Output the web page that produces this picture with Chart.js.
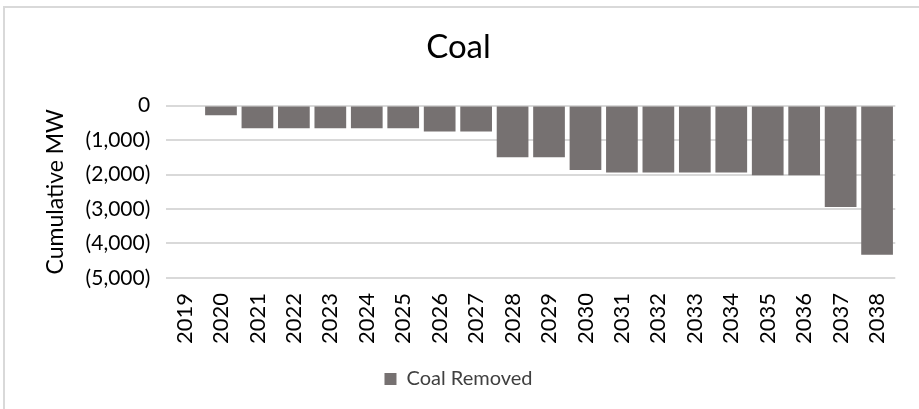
<!DOCTYPE html>
<html>
<head>
<meta charset="utf-8">
<script src="https://cdn.jsdelivr.net/npm/chart.js@4"></script>
<style>
  html, body { margin: 0; padding: 0; background: #fff; overflow: hidden; }
  #wrap { position: absolute; left: 0; top: 0; width: 919px; height: 409px; }
  #frame { position: absolute; left: 3px; top: 6px; width: 940px; height: 430px;
           border-left: 2px solid #d9d9d9; border-top: 2px solid #d9d9d9; }
</style>
</head>
<body>
<div id="wrap">
  <div id="frame"></div>
  <canvas id="coalChart" width="919" height="409"></canvas>
</div>
<script>
// categories and values (cumulative MW removed)
const years = ['2019', '2020', '2021', '2022', '2023', '2024', '2025', '2026', '2027', '2028',
               '2029', '2030', '2031', '2032', '2033', '2034', '2035', '2036', '2037', '2038'];
const coalRemoved = [0, -280, -660, -660, -660, -660, -660, -750, -750, -1500,
                     -1500, -1870, -1940, -1940, -1940, -1940, -2020, -2020, -2940, -4330];
const yTicks = [0, -1000, -2000, -3000, -4000, -5000];

const fmt = v => {
  if (v === 0) return '0';
  const s = Math.abs(v).toLocaleString('en-US');
  return v < 0 ? `(${s})` : s;
};

const ctx = document.getElementById('coalChart').getContext('2d');
const coalChart = new Chart(ctx, {
  type: 'bar',
  data: {
    labels: years,
    datasets: [{
      label: 'Coal Removed',
      data: coalRemoved,
      backgroundColor: '#767171',
      borderWidth: 0,
      barPercentage: 0.87,
      categoryPercentage: 1,
    }],
  },
  options: {
    responsive: false,
    animation: false,
    layout: { padding: { left: 19, right: 21, top: 28, bottom: 10 } },
    font: { family: 'Lato' },
    plugins: {
      title: {
        display: true,
        text: 'Coal',
        color: '#000',
        font: { family: 'Lato', size: 33, weight: 'normal' },
        padding: { top: 0, bottom: 38 },
      },
      legend: {
        position: 'bottom',
        labels: {
          color: '#404040',
          font: { family: 'Lato', size: 20 },
          boxWidth: 12,
          boxHeight: 12,
          padding: 10,
        },
      },
      tooltip: { enabled: false },
    },
    scales: {
      x: {
        grid: { display: false, drawTicks: false },
        border: { display: false },
        ticks: {
          color: '#000',
          font: { family: 'Lato', size: 22 },
          maxRotation: 90,
          minRotation: 90,
          padding: 15,
        },
      },
      y: {
        min: -5000,
        max: 0,
        afterBuildTicks: axis => { axis.ticks = yTicks.map(v => ({ value: v })); },
        grid: { color: '#d9d9d9', lineWidth: 2, drawTicks: false },
        border: { display: false },
        ticks: {
          color: '#000',
          font: { family: 'Lato', size: 21 },
          padding: 16,
          callback: v => fmt(v),
        },
        title: {
          display: true,
          text: 'Cumulative MW',
          color: '#000',
          font: { family: 'Lato', size: 23 },
          padding: { top: 23, bottom: 0 },
        },
      },
    },
  },
});
</script>
</body>
</html>
